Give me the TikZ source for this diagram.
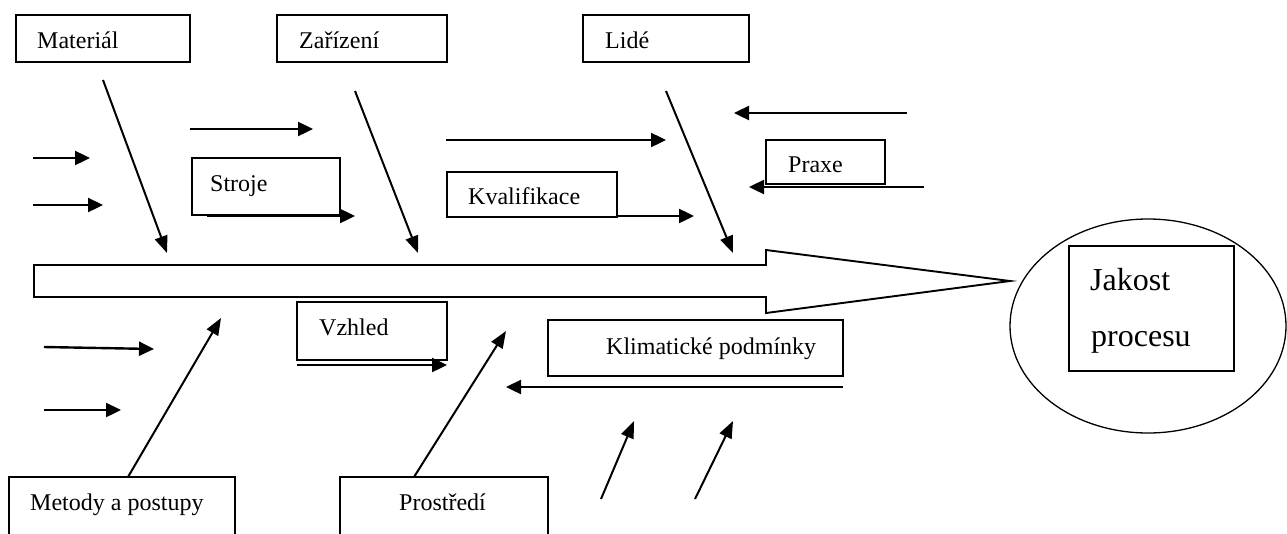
\documentclass[tikz,border=0pt]{standalone}
\usepackage{fontspec}
\setmainfont{Liberation Serif}
\usetikzlibrary{arrows.meta,shapes.geometric}
\begin{document}
\begin{tikzpicture}[x=1pt,y=-1pt,
  box/.style={draw,line width=1.8pt,rectangle,inner sep=0pt,outer sep=0pt,anchor=north west},
  lbl/.style={anchor=base west,inner sep=0pt,font=\fontsize{24}{27}\selectfont},
  big/.style={anchor=base west,inner sep=0pt,font=\fontsize{32}{35}\selectfont},
  arr/.style={line width=2.4pt,-{Triangle[length=15pt,width=14pt]}},
  bone/.style={line width=2pt,-{Triangle[length=17pt,width=13pt]}}]
\useasboundingbox (0,0) rectangle (1287,533);

% boxes
\node[box,minimum width=174pt,minimum height=47pt] (mat) at (16,15) {};
\node[box,minimum width=170pt,minimum height=47pt] (zar) at (277,15) {};
\node[box,minimum width=166pt,minimum height=47pt] (lid) at (583,15) {};
\node[box,minimum width=148pt,minimum height=57pt] (str) at (192,158) {};
\node[box,minimum width=170pt,minimum height=45pt] (kva) at (447,172) {};
\node[box,minimum width=119pt,minimum height=44pt] (pra) at (766,140) {};
\node[box,minimum width=150pt,minimum height=58pt] (vzh) at (297,302) {};
\node[box,minimum width=295pt,minimum height=56pt] (kli) at (548,320) {};
\node[draw,line width=1.3pt,ellipse,minimum width=276pt,minimum height=214pt,inner sep=0pt] (ell) at (1148,326) {};
\node[box,minimum width=165pt,minimum height=125pt] (jak) at (1069,246) {};

% open bottom boxes
\coordinate (met1) at (9,540); \coordinate (met2) at (9,477);
\coordinate (met3) at (235,477); \coordinate (met4) at (235,540);
\draw[line width=1.8pt] (met1) -- (met2) -- (met3) -- (met4);
\coordinate (pro1) at (340,540); \coordinate (pro2) at (340,477);
\coordinate (pro3) at (548,477); \coordinate (pro4) at (548,540);
\draw[line width=1.8pt] (pro1) -- (pro2) -- (pro3) -- (pro4);

% labels
\node[lbl] (tmat) at (37,48) {Materiál};
\node[lbl] (tzar) at (299,48) {Zařízení};
\node[lbl] (tlid) at (605,48) {Lidé};
\node[lbl] (tstr) at (210,191) {Stroje};
\node[lbl] (tkva) at (468,204) {Kvalifikace};
\node[lbl] (tpra) at (788,172) {Praxe};
\node[lbl] (tvzh) at (319,335) {Vzhled};
\node[lbl] (tkli) at (606,354) {Klimatické podmínky};
\node[lbl] (tmet) at (30,510) {Metody a postupy};
\node[lbl] (tpro) at (399,510) {Prostředí};
\node[big] (tjak) at (1090,290) {Jakost};
\node[big] (tproc) at (1091,346) {procesu};

% main arrow
\coordinate (tip) at (1010,281);
\draw[line width=1.9pt,line join=miter] (34,265) -- (766,265) -- (766,250) -- (tip) -- (766,313) -- (766,297) -- (34,297) -- cycle;

% bones
\coordinate (b1s) at (103,80);  \coordinate (b1e) at (167,253);
\coordinate (b2s) at (355,91);  \coordinate (b2e) at (418,253);
\coordinate (b3s) at (666,91);  \coordinate (b3e) at (733,253);
\coordinate (b4s) at (128,477); \coordinate (b4e) at (221,318);
\coordinate (b5s) at (414,477); \coordinate (b5e) at (506,331);
\draw[bone] (b1s) -- (b1e);
\draw[bone] (b2s) -- (b2e);
\draw[bone] (b3s) -- (b3e);
\draw[bone] (b4s) -- (b4e);
\draw[bone] (b5s) -- (b5e);

% small arrows
\coordinate (a1s) at (33,158);  \coordinate (a1e) at (90,158);
\coordinate (a2s) at (33,205);  \coordinate (a2e) at (103,205);
\coordinate (a3s) at (190,129); \coordinate (a3e) at (313,129);
\coordinate (a4s) at (207,216); \coordinate (a4e) at (355,216);
\coordinate (a5s) at (446,140); \coordinate (a5e) at (666,140);
\coordinate (a6s) at (617,216); \coordinate (a6e) at (694,216);
\coordinate (a7s) at (907,113); \coordinate (a7e) at (734,113);
\coordinate (a8s) at (924,187); \coordinate (a8e) at (749,187);
\coordinate (a9s) at (44,347);  \coordinate (a9e) at (154,349);
\coordinate (a10s) at (44,410); \coordinate (a10e) at (121,410);
\coordinate (a11s) at (297,365); \coordinate (a11e) at (447,365);
\coordinate (a12s) at (843,387); \coordinate (a12e) at (506,387);
\coordinate (a13s) at (601,499); \coordinate (a13e) at (634,421);
\coordinate (a14s) at (695,499); \coordinate (a14e) at (733,421);
\foreach \i in {1,...,12} {\draw[arr] (a\i s) -- (a\i e);}
\draw[bone] (a13s) -- (a13e);
\draw[bone] (a14s) -- (a14e);
\end{tikzpicture}
\end{document}
